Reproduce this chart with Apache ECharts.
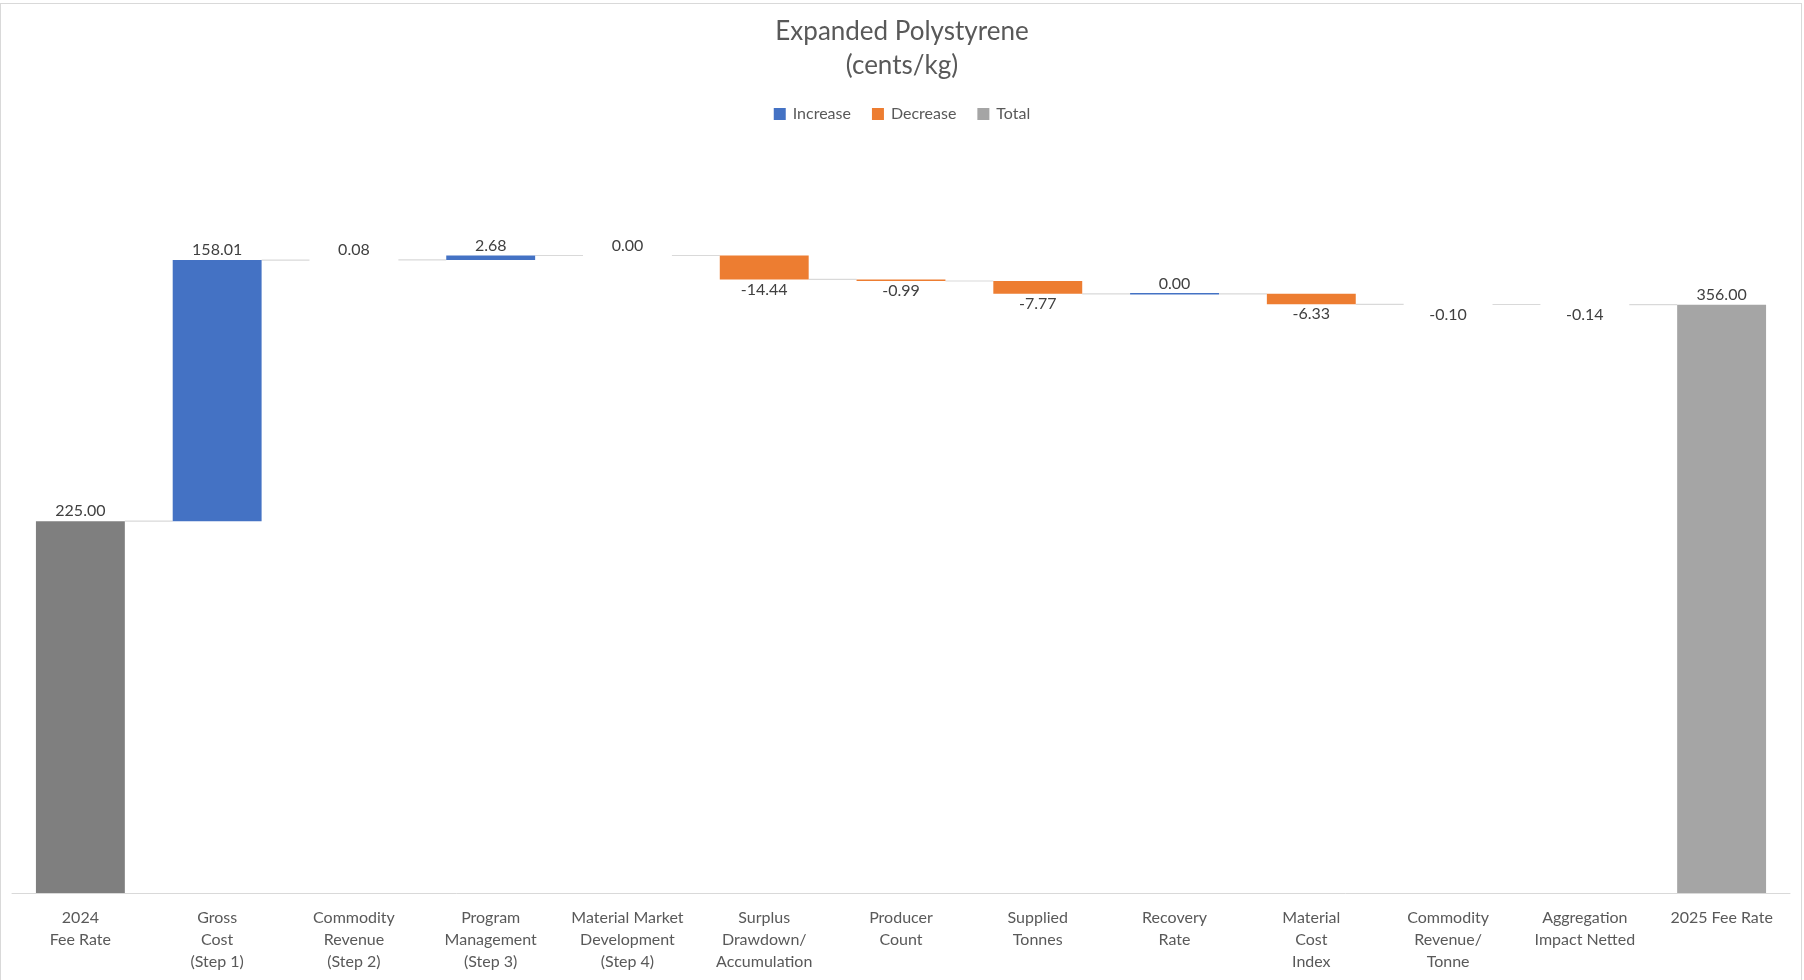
<!DOCTYPE html>
<html>
<head>
<meta charset="utf-8">
<script src="https://cdn.jsdelivr.net/npm/echarts@6/dist/echarts.min.js"></script>
<style>
  html, body { margin: 0; padding: 0; background: #ffffff; }
  #chart { position: absolute; left: 0; top: 0; width: 1804px; height: 980px; }
  #frame { position: absolute; left: 0; top: 3px; width: 1802px; height: 990px; box-sizing: border-box;
           border: 1px solid #D9D9D9; pointer-events: none; }
</style>
</head>
<body>
<div id="chart"></div>
<div id="frame"></div>
<script>
// ---- Data ----
const titleText = 'Expanded Polystyrene\n(cents/kg)';
const categories = [
  '2024\nFee Rate',
  'Gross\nCost\n(Step 1)',
  'Commodity\nRevenue\n(Step 2)',
  'Program\nManagement\n(Step 3)',
  'Material Market\nDevelopment\n(Step 4)',
  'Surplus\nDrawdown/\nAccumulation',
  'Producer\nCount',
  'Supplied\nTonnes',
  'Recovery\nRate',
  'Material\nCost\nIndex',
  'Commodity\nRevenue/\nTonne',
  'Aggregation\nImpact Netted',
  '2025 Fee Rate'
];
const startTotal = 225.00;   // 2024 Fee Rate
const endTotal = 356.00;     // 2025 Fee Rate
const changes = [158.01, 0.08, 2.68, 0.00, -14.44, -0.99, -7.77, 0.00, -6.33, -0.10, -0.14];
const zeroLineCategories = ['Recovery\nRate'];  // zero-change step drawn as a thin line
const legendNames = ['Increase', 'Decrease', 'Total'];

// ---- Build waterfall records from the data ----
const incData = [], decData = [], totData = [], connData = [];
totData.push([0, 0, startTotal, startTotal]);
let level = startTotal;
connData.push([0, level]);
changes.forEach((v, k) => {
  const i = k + 1;
  const next = level + v;
  if (v >= 0) incData.push([i, level, next, v]);
  else decData.push([i, next, level, v]);
  level = next;
  connData.push([i, level]);
});
totData.push([categories.length - 1, 0, endTotal, endTotal]);

const COLORS = { inc: '#4472C4', dec: '#ED7D31', tot: '#A5A5A5', totStart: '#7F7F7F' };
const FONT = 'Lato, "Noto Sans", sans-serif';
const BAR_RATIO = 0.65;

function makeRender(color, labelBelow) {
  return function (params, api) {
    const i = api.value(0), lo = api.value(1), hi = api.value(2), val = api.value(3);
    const pLo = api.coord([i, lo]);
    const pHi = api.coord([i, hi]);
    const w = api.size([1, 0])[0] * BAR_RATIO;
    const x = pLo[0] - w / 2;
    const yTop = Math.min(pLo[1], pHi[1]);
    const yBot = Math.max(pLo[1], pHi[1]);
    const h = yBot - yTop;
    let fill = color;
    if (color === COLORS.tot && i === 0) fill = COLORS.totStart;
    const children = [];
    if (h < 0.5 && zeroLineCategories.indexOf(categories[i]) >= 0) {
      children.push({ type: 'line', shape: { x1: x, y1: yTop, x2: x + w, y2: yTop },
                      style: { stroke: fill, lineWidth: 1.5 } });
    } else if (h >= 0.5) {
      children.push({ type: 'rect', shape: { x: x, y: yTop, width: w, height: h }, style: { fill: fill } });
    }
    children.push({
      type: 'text',
      x: pLo[0],
      y: labelBelow ? yBot + 2 : yTop - 2,
      style: {
        text: val.toFixed(2),
        fill: '#404040',
        font: '16px ' + FONT,
        textAlign: 'center',
        textVerticalAlign: labelBelow ? 'top' : 'bottom'
      }
    });
    return { type: 'group', children: children };
  };
}

function renderConnector(params, api) {
  const i = api.value(0), lv = api.value(1);
  const p0 = api.coord([i, lv]);
  const p1 = api.coord([i + 1, lv]);
  const w = api.size([1, 0])[0] * BAR_RATIO;
  return { type: 'line',
           shape: { x1: p0[0] + w / 2, y1: p0[1], x2: p1[0] - w / 2, y2: p1[1] },
           style: { stroke: '#D9D9D9', lineWidth: 1.2 } };
}

const chart = echarts.init(document.getElementById('chart'), null, { renderer: 'canvas' });
chart.setOption({
  animation: false,
  backgroundColor: '#ffffff',
  title: {
    text: titleText,
    left: 'center',
    top: 15,
    padding: 0,
    textStyle: { fontFamily: FONT, fontSize: 26, fontWeight: 'normal', color: '#595959', lineHeight: 34 }
  },
  legend: {
    data: legendNames,
    top: 106,
    left: 'center',
    padding: 0,
    icon: 'rect',
    itemWidth: 12,
    itemHeight: 12,
    itemGap: 21,
    textStyle: { fontFamily: FONT, fontSize: 16, color: '#595959', padding: [0, 0, 0, 2] }
  },
  grid: { left: 12, right: 14, top: 232, bottom: 87 },
  xAxis: {
    type: 'category',
    data: categories,
    axisTick: { show: false },
    axisLine: { lineStyle: { color: '#D9D9D9', width: 1 } },
    axisLabel: { interval: 0, margin: 14, fontFamily: FONT, fontSize: 16, lineHeight: 22, color: '#595959' }
  },
  yAxis: {
    type: 'value', min: 0, max: 400, show: false, splitLine: { show: false }
  },
  series: [
    { name: 'Connector', type: 'custom', renderItem: renderConnector, data: connData,
      encode: { x: 0, y: 1 }, silent: true, z: 1 },
    { name: 'Increase', type: 'custom', renderItem: makeRender(COLORS.inc, false), data: incData,
      itemStyle: { color: COLORS.inc }, encode: { x: 0, y: [1, 2] }, z: 2 },
    { name: 'Decrease', type: 'custom', renderItem: makeRender(COLORS.dec, true), data: decData,
      itemStyle: { color: COLORS.dec }, encode: { x: 0, y: [1, 2] }, z: 2 },
    { name: 'Total', type: 'custom', renderItem: makeRender(COLORS.tot, false), data: totData,
      itemStyle: { color: COLORS.tot }, encode: { x: 0, y: [1, 2] }, z: 2 }
  ]
});
</script>
</body>
</html>
